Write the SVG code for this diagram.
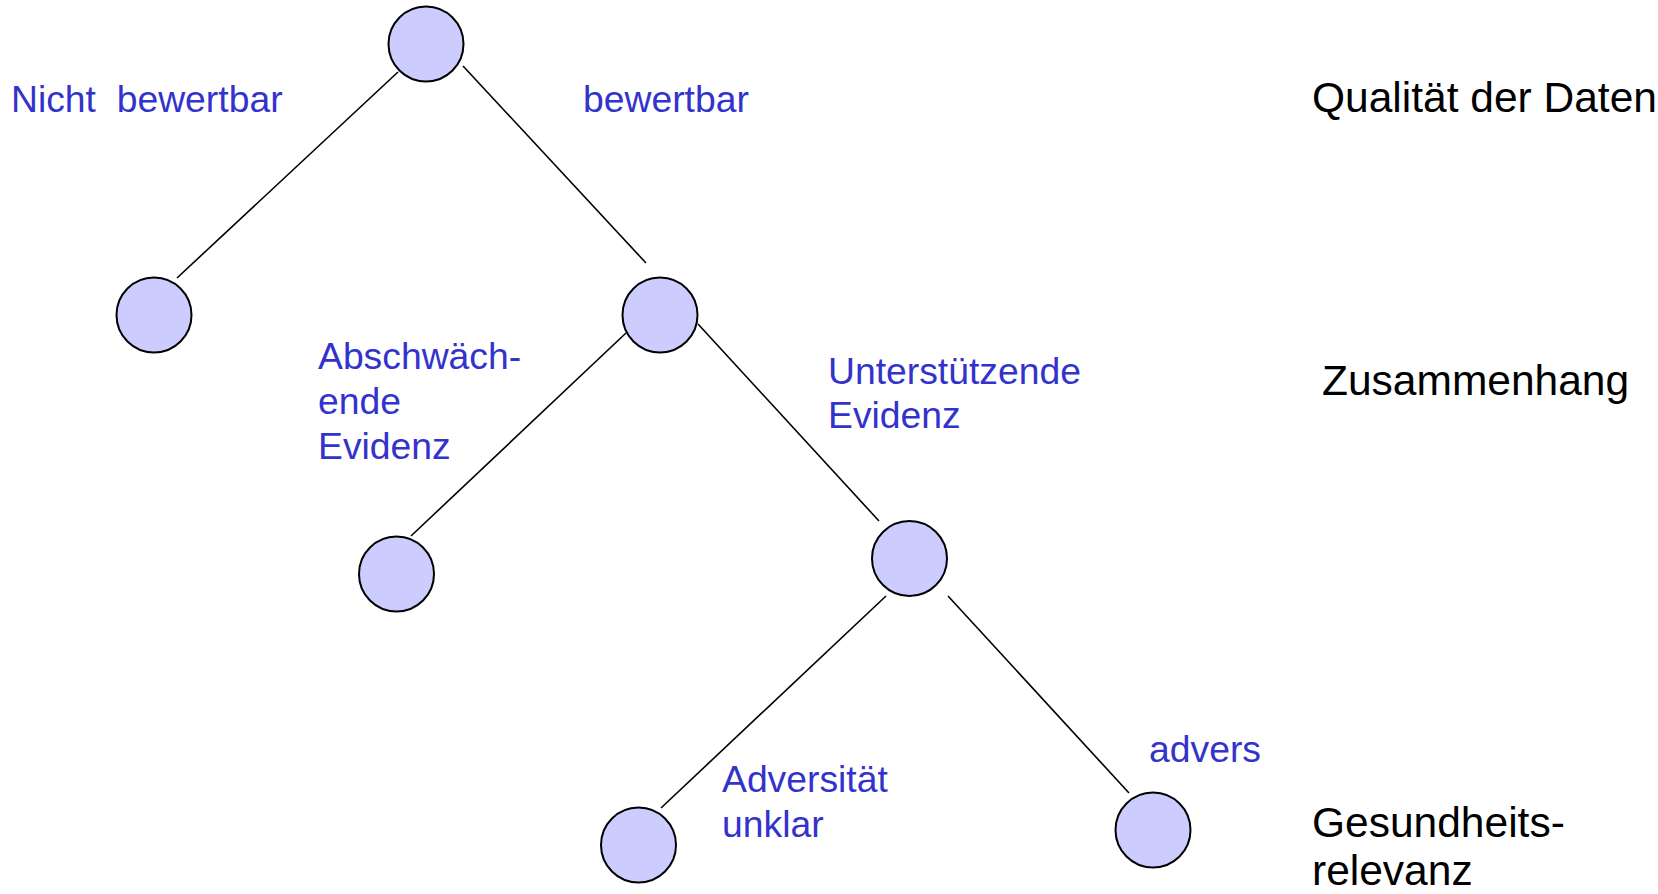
<svg xmlns="http://www.w3.org/2000/svg" width="1658" height="894" viewBox="0 0 1658 894">
<style>
.node{fill:#CCCCFF;stroke:#000;stroke-width:2}
.edge{stroke:#000;stroke-width:1.6;fill:none}
.lbl{font-family:"Liberation Sans",Arial,sans-serif;font-size:37.3px;fill:#3333CC}
.lvl{font-family:"Liberation Sans",Arial,sans-serif;font-size:42.5px;fill:#000}
</style>
<rect width="1658" height="894" fill="#fff"/>
<g id="connectors">
<line class="edge" x1="398" y1="72" x2="177" y2="278"/>
<line class="edge" x1="463" y1="66" x2="646" y2="263"/>
<line class="edge" x1="626" y1="333" x2="411" y2="536"/>
<line class="edge" x1="698" y1="324" x2="879" y2="521"/>
<line class="edge" x1="886" y1="596" x2="661" y2="808"/>
<line class="edge" x1="948" y1="596" x2="1129" y2="793"/>
</g>
<g id="n-root"><circle class="node" cx="426" cy="44" r="37.5"/></g>
<g id="n-nicht"><circle class="node" cx="154" cy="315" r="37.5"/></g>
<g id="n-bewertbar"><circle class="node" cx="660" cy="315" r="37.5"/></g>
<g id="n-abschwaechend"><circle class="node" cx="396.5" cy="574" r="37.5"/></g>
<g id="n-unterstuetzend"><circle class="node" cx="909.5" cy="558.5" r="37.5"/></g>
<g id="n-unklar"><circle class="node" cx="638.5" cy="845" r="37.5"/></g>
<g id="n-advers"><circle class="node" cx="1153" cy="830" r="37.5"/></g>
<g id="labels">
<text class="lbl" x="11" y="112" xml:space="preserve">Nicht  bewertbar</text>
<text class="lbl" x="583" y="112">bewertbar</text>
<text class="lbl" x="318" y="369">Abschwäch-</text>
<text class="lbl" x="318" y="414">ende</text>
<text class="lbl" x="318" y="459">Evidenz</text>
<text class="lbl" x="828" y="384">Unterstützende</text>
<text class="lbl" x="828" y="428">Evidenz</text>
<text class="lbl" x="722" y="792">Adversität</text>
<text class="lbl" x="722" y="837">unklar</text>
<text class="lbl" x="1149" y="762">advers</text>
<text class="lvl" x="1312" y="112">Qualität der Daten</text>
<text class="lvl" x="1322" y="395">Zusammenhang</text>
<text class="lvl" x="1312" y="837">Gesundheits-</text>
<text class="lvl" x="1312" y="885">relevanz</text>
</g>
</svg>
